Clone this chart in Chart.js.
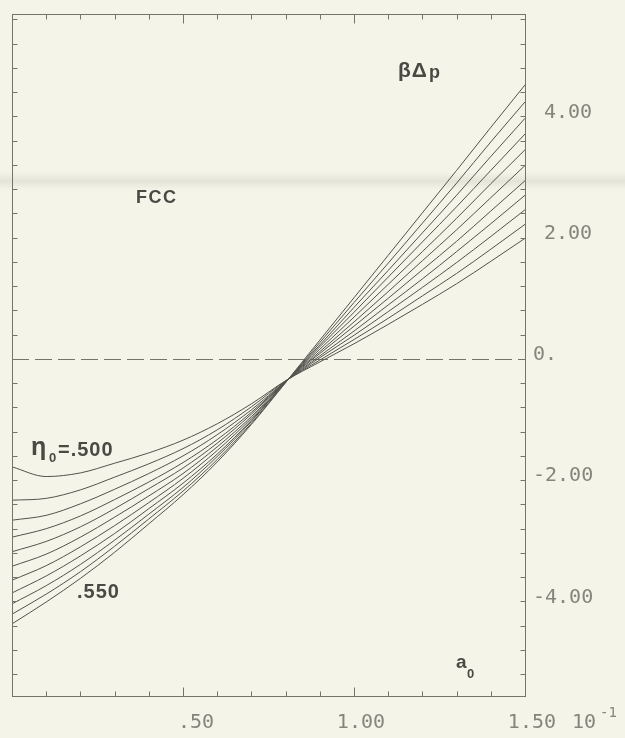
<!DOCTYPE html>
<html>
<head>
<meta charset="utf-8">
<script src="https://cdn.jsdelivr.net/npm/chart.js@4/dist/chart.umd.min.js"></script>
<style>
  html, body { margin: 0; padding: 0; background: #f4f4e9; }
  canvas { display: block; }
</style>
</head>
<body>
<canvas id="c" width="625" height="738"></canvas>
<script>
// Reduced lattice parameter a0 (units of 10^-1)
const aValues = [0, 0.1, 0.2, 0.3, 0.4, 0.5, 0.6, 0.7, 0.8, 0.9, 1.0, 1.1, 1.2, 1.3, 1.4, 1.5];

// beta * Delta p for each packing fraction eta0 (FCC)
const eta500 = [-1.78, -1.94, -1.88, -1.72, -1.55, -1.34, -1.07, -0.74, -0.36, -0.05, 0.25, 0.57, 0.90, 1.24, 1.61, 1.99];
const eta505 = [-2.33, -2.30, -2.16, -1.95, -1.73, -1.48, -1.17, -0.79, -0.36, -0.02, 0.32, 0.67, 1.04, 1.41, 1.81, 2.22];
const eta510 = [-2.66, -2.58, -2.39, -2.15, -1.89, -1.60, -1.25, -0.84, -0.37, 0.02, 0.39, 0.78, 1.18, 1.59, 2.02, 2.46];
const eta515 = [-2.94, -2.80, -2.59, -2.32, -2.03, -1.71, -1.33, -0.88, -0.37, 0.05, 0.46, 0.89, 1.32, 1.77, 2.23, 2.70];
const eta520 = [-3.18, -3.01, -2.77, -2.47, -2.14, -1.80, -1.39, -0.91, -0.37, 0.09, 0.54, 1.00, 1.47, 1.94, 2.44, 2.94];
const eta525 = [-3.42, -3.22, -2.94, -2.61, -2.26, -1.89, -1.45, -0.95, -0.37, 0.12, 0.61, 1.11, 1.62, 2.13, 2.66, 3.19];
const eta530 = [-3.65, -3.41, -3.10, -2.75, -2.37, -1.97, -1.51, -0.98, -0.38, 0.16, 0.69, 1.23, 1.77, 2.32, 2.89, 3.45];
const eta535 = [-3.86, -3.58, -3.25, -2.88, -2.47, -2.05, -1.57, -1.01, -0.38, 0.20, 0.77, 1.35, 1.93, 2.51, 3.11, 3.71];
const eta540 = [-4.04, -3.74, -3.39, -2.99, -2.56, -2.12, -1.61, -1.03, -0.38, 0.23, 0.85, 1.46, 2.08, 2.70, 3.34, 3.97];
const eta545 = [-4.21, -3.88, -3.51, -3.09, -2.64, -2.18, -1.66, -1.06, -0.39, 0.27, 0.93, 1.58, 2.24, 2.90, 3.58, 4.24];
const eta550 = [-4.37, -4.01, -3.62, -3.19, -2.72, -2.24, -1.70, -1.08, -0.39, 0.31, 1.01, 1.71, 2.41, 3.11, 3.82, 4.52];

const etaSeries = [eta500, eta505, eta510, eta515, eta520, eta525, eta530, eta535, eta540, eta545, eta550];
const etaNames = ['.500', '.505', '.510', '.515', '.520', '.525', '.530', '.535', '.540', '.545', '.550'];

// Axis labels
const xLabelValues = [0.5, 1.0, 1.5];
const xTickLabels = ['.50', '1.00', '1.50'];
const yLabelValues = [4, 2, 0, -2, -4];
const yTickLabels = ['4.00', '2.00', '0.', '-2.00', '-4.00'];

const INK = '#53534d';
const FRAME = '#74746c';
const TICK_TEXT = '#85857c';
const NOTE_TEXT = '#4a4a44';

function setSpacing(ctx, px) {
  if ('letterSpacing' in ctx) ctx.letterSpacing = px + 'px';
}

const framePlugin = {
  id: 'frame',
  beforeDraw(chart) {
    const { ctx, width, height } = chart;
    ctx.save();
    ctx.fillStyle = '#f4f4e9';
    ctx.fillRect(0, 0, width, height);
    // faint shadow band across the sheet
    const g = ctx.createLinearGradient(0, 172, 0, 190);
    g.addColorStop(0, 'rgba(190,190,178,0)');
    g.addColorStop(0.5, 'rgba(185,185,172,0.28)');
    g.addColorStop(1, 'rgba(190,190,178,0)');
    ctx.fillStyle = g;
    ctx.fillRect(0, 172, width, 18);
    ctx.restore();
  },
  beforeDatasetsDraw(chart) {
    const { ctx, chartArea: a } = chart;
    const ys = chart.scales.y;
    const y0 = Math.round(ys.getPixelForValue(0)) + 0.5;
    ctx.save();
    ctx.strokeStyle = FRAME;
    ctx.lineWidth = 1;
    ctx.setLineDash([17, 6]);
    ctx.beginPath();
    ctx.moveTo(a.left, y0);
    ctx.lineTo(a.right, y0);
    ctx.stroke();
    ctx.restore();
  },
  afterDatasetsDraw(chart) {
    const { ctx, chartArea: a } = chart;
    const xs = chart.scales.x, ys = chart.scales.y;
    ctx.save();
    ctx.strokeStyle = FRAME;
    ctx.lineWidth = 1;
    const L = Math.round(a.left) + 0.5, R = Math.round(a.right) + 0.5;
    const T = Math.round(a.top) + 0.5, B = Math.round(a.bottom) + 0.5;
    ctx.strokeRect(L, T, R - L, B - T);

    ctx.beginPath();
    // ticks along a0, every 0.1, longer at each 0.5
    for (let k = 1; k < 15; k++) {
      const px = Math.round(xs.getPixelForValue(k / 10)) + 0.5;
      const len = (k % 5 === 0) ? 9 : 5;
      ctx.moveTo(px, B); ctx.lineTo(px, B - len);
      ctx.moveTo(px, T); ctx.lineTo(px, T + len);
    }
    // ticks along beta*Delta p, every 0.4
    for (let k = -13; k <= 14; k++) {
      const v = k * 0.4;
      if (v <= ys.min || v >= ys.max) continue;
      const py = Math.round(ys.getPixelForValue(v)) + 0.5;
      const len = 5;
      ctx.moveTo(L, py); ctx.lineTo(L + len, py);
      ctx.moveTo(R, py); ctx.lineTo(R - len, py);
    }
    ctx.stroke();

    // tick labels
    ctx.fillStyle = TICK_TEXT;
    ctx.font = '20px "DejaVu Sans Mono", monospace';
    ctx.textBaseline = 'middle';
    ctx.textAlign = 'right';
    xLabelValues.forEach((v, i) => {
      ctx.fillText(xTickLabels[i], xs.getPixelForValue(v) + 31, 723);
    });
    ctx.textAlign = 'left';
    yLabelValues.forEach((v, i) => {
      const x = a.right + (v > 0 ? 19 : 8);
      ctx.fillText(yTickLabels[i], x, ys.getPixelForValue(v) - 4);
    });
    // scale factor for the a0 axis
    ctx.fillText('10', 572, 723);
    ctx.font = '14px "DejaVu Sans Mono", monospace';
    ctx.fillText('-1', 600, 713);

    // annotations
    ctx.fillStyle = NOTE_TEXT;
    ctx.textBaseline = 'alphabetic';
    ctx.font = 'bold 21px "Liberation Sans", Arial, sans-serif';
    setSpacing(ctx, 1);
    ctx.fillText('β', 398, 77);
    const bw = ctx.measureText('β').width;
    setSpacing(ctx, 0);
    ctx.fillText('Δ', 398 + bw, 77);
    const dw = ctx.measureText('Δ').width;
    ctx.font = 'bold 18px "Liberation Sans", Arial, sans-serif';
    ctx.fillText('p', 400 + bw + dw, 78);

    ctx.font = 'bold 18px "Liberation Sans", Arial, sans-serif';
    setSpacing(ctx, 1.5);
    ctx.fillText('FCC', 136, 203);

    setSpacing(ctx, 0);
    ctx.font = 'bold 25px "Liberation Sans", Arial, sans-serif';
    ctx.fillText('η', 31, 455);
    ctx.font = 'bold 13px "Liberation Sans", Arial, sans-serif';
    ctx.fillText('0', 49, 462);
    ctx.font = 'bold 20px "Liberation Sans", Arial, sans-serif';
    setSpacing(ctx, 1);
    ctx.fillText('=' + etaNames[0], 58, 456);
    ctx.fillText(etaNames[etaNames.length - 1], 77, 598);

    setSpacing(ctx, 0);
    ctx.font = 'bold 19px "Liberation Sans", Arial, sans-serif';
    ctx.fillText('a', 456, 668);
    ctx.font = 'bold 13px "Liberation Sans", Arial, sans-serif';
    ctx.fillText('0', 467, 678);
    ctx.restore();
  }
};

new Chart(document.getElementById('c'), {
  type: 'line',
  data: {
    datasets: etaSeries.map((vals, i) => ({
      label: 'η0 = ' + etaNames[i],
      data: aValues.map((a, k) => ({ x: a, y: vals[k] })),
      borderColor: INK,
      borderWidth: 1,
      pointRadius: 0,
      fill: false,
      cubicInterpolationMode: 'monotone'
    }))
  },
  options: {
    responsive: false,
    animation: false,
    devicePixelRatio: 1,
    layout: { padding: { left: 12, top: 14, right: 100, bottom: 42 } },
    plugins: { legend: { display: false }, tooltip: { enabled: false } },
    scales: {
      x: { type: 'linear', display: false, min: 0, max: 1.5 },
      y: { type: 'linear', display: false, min: -5.56, max: 5.69 }
    }
  },
  plugins: [framePlugin]
});
</script>
</body>
</html>
